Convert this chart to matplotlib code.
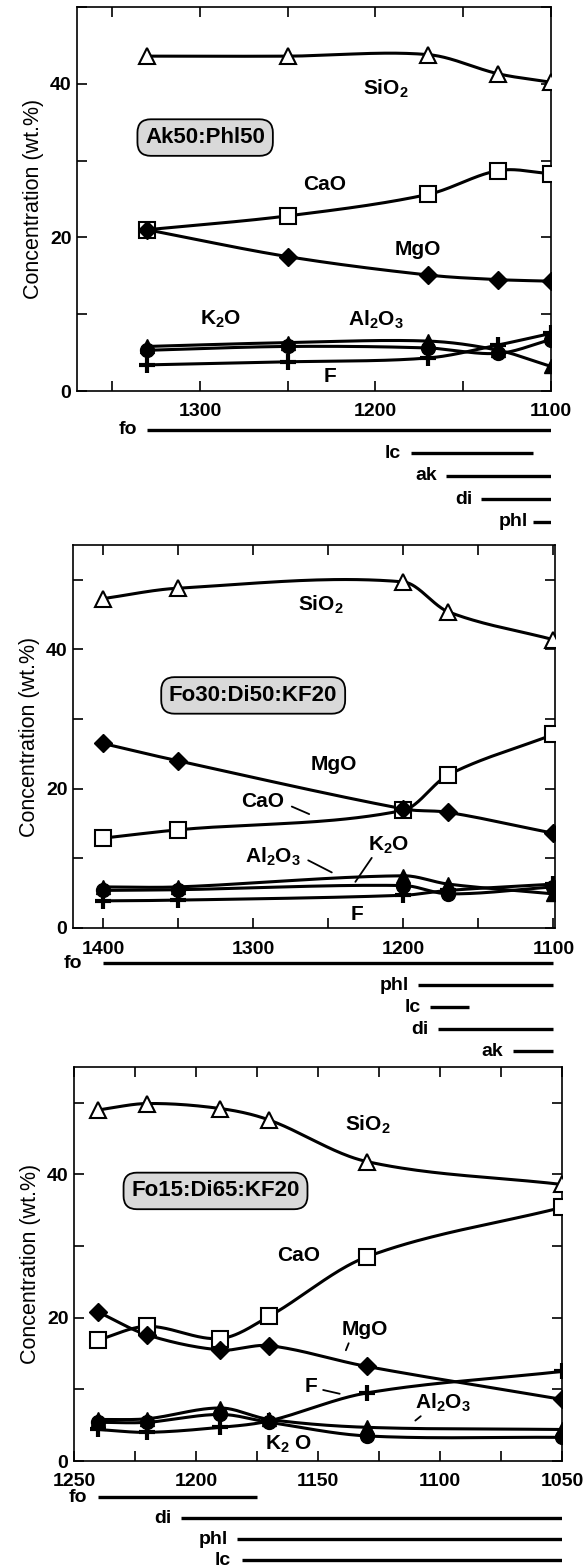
import numpy as np
import matplotlib
matplotlib.use("Agg")
import matplotlib.pyplot as plt
from matplotlib.ticker import MultipleLocator

plt.rcParams["font.family"] = ["Liberation Sans", "DejaVu Sans"]
plt.rcParams["mathtext.fontset"] = "custom"
plt.rcParams["mathtext.rm"] = "Liberation Sans:bold"
plt.rcParams["mathtext.default"] = "rm"

W, H = 586, 1568

# ---- panel 1 : Ak50:Phl50
temp_1 = [1330, 1250, 1170, 1130, 1100]
sio2_1 = [43.6, 43.6, 43.8, 41.3, 40.2]
cao_1 = [21.0, 22.8, 25.6, 28.7, 28.3]
mgo_1 = [21.0, 17.5, 15.1, 14.5, 14.3]
k2o_1 = [5.3, 5.8, 5.6, 4.9, 6.7]
al2o3_1 = [5.8, 6.3, 6.5, 5.3, 3.2]
f_1 = [3.4, 3.8, 4.3, 6.0, 7.5]
phases_1 = ["fo", "lc", "ak", "di", "phl"]
phase_from_1 = [1330, 1180, 1160, 1140, 1110]
phase_to_1 = [1100, 1110, 1100, 1100, 1100]

# ---- panel 2 : Fo30:Di50:KF20
temp_2 = [1400, 1350, 1200, 1170, 1100]
sio2_2 = [47.3, 48.8, 49.7, 45.4, 41.4]
cao_2 = [12.9, 14.1, 16.9, 22.0, 27.8]
mgo_2 = [26.5, 24.0, 17.1, 16.6, 13.6]
k2o_2 = [5.4, 5.5, 6.1, 4.9, 5.9]
al2o3_2 = [5.9, 5.9, 7.5, 6.3, 4.9]
f_2 = [3.9, 4.0, 4.7, 5.4, 6.3]
phases_2 = ["fo", "phl", "lc", "di", "ak"]
phase_from_2 = [1400, 1190, 1182, 1177, 1127]
phase_to_2 = [1100, 1100, 1156, 1100, 1100]

# ---- panel 3 : Fo15:Di65:KF20
temp_3 = [1240, 1220, 1190, 1170, 1130, 1050]
sio2_3 = [49.0, 49.9, 49.2, 47.6, 41.8, 38.6]
cao_3 = [16.9, 18.8, 17.1, 20.2, 28.5, 35.4]
mgo_3 = [20.8, 17.6, 15.5, 16.1, 13.2, 8.6]
k2o_3 = [5.4, 5.4, 6.5, 5.4, 3.5, 3.3]
al2o3_3 = [5.8, 5.9, 7.4, 5.8, 4.7, 4.4]
f_3 = [4.4, 4.0, 4.7, 5.6, 9.5, 12.5]
phases_3 = ["fo", "di", "phl", "lc"]
phase_from_3 = [1240, 1206, 1183, 1181]
phase_to_3 = [1175, 1050, 1050, 1050]

markers = {
    "SiO2": dict(marker="^", mfc="white", ms=11, mew=1.5),
    "CaO": dict(marker="s", mfc="white", ms=12, mew=1.5),
    "MgO": dict(marker="D", mfc="black", ms=9),
    "K2O": dict(marker="o", mfc="black", ms=10),
    "Al2O3": dict(marker="^", mfc="black", ms=10),
    "F": dict(marker="+", ms=12, mew=3),
}


def smooth(x, y, n=40):
    # hermite curve through the measured points, just for drawing the line
    x = np.asarray(x, float)
    y = np.asarray(y, float)
    o = np.argsort(x)
    x, y = x[o], y[o]
    m = np.empty_like(y)
    m[1:-1] = (y[2:] - y[:-2]) / (x[2:] - x[:-2])
    m[0] = (y[1] - y[0]) / (x[1] - x[0])
    m[-1] = (y[-1] - y[-2]) / (x[-1] - x[-2])
    xs, ys = [], []
    t = np.linspace(0, 1, n)
    for i in range(len(x) - 1):
        h = x[i + 1] - x[i]
        h00 = 2 * t ** 3 - 3 * t ** 2 + 1
        h10 = t ** 3 - 2 * t ** 2 + t
        h01 = -2 * t ** 3 + 3 * t ** 2
        h11 = t ** 3 - t ** 2
        xs.append(x[i] + t * h)
        ys.append(h00 * y[i] + h10 * h * m[i] + h01 * y[i + 1] + h11 * h * m[i + 1])
    return np.concatenate(xs), np.concatenate(ys)


def rect(left, top, right, bottom):
    return [left / W, 1 - bottom / H, (right - left) / W, (bottom - top) / H]


fig = plt.figure(figsize=(W / 100, H / 100), dpi=100)


def panel(box, xlim, ymax, xmaj, xmin, temps, series, name, name_xy, notes,
          bar_box, phases, p_from, p_to, gaps):
    ax = fig.add_axes(rect(*box))
    for key, vals in series.items():
        xs, ys = smooth(temps, vals)
        ax.plot(xs, ys, color="black", lw=2.2, zorder=2)
    for key, vals in series.items():
        ax.plot(temps, vals, ls="none", color="black", mec="black", zorder=3,
                **markers[key])
    ax.set_xlim(*xlim)
    ax.set_ylim(0, ymax)
    ax.xaxis.set_major_locator(MultipleLocator(xmaj))
    ax.xaxis.set_minor_locator(MultipleLocator(xmin))
    ax.yaxis.set_major_locator(MultipleLocator(20))
    ax.yaxis.set_minor_locator(MultipleLocator(10))
    ax.tick_params(which="both", direction="in", top=True, right=True,
                   length=7, width=1.2, labelsize=14)
    ax.tick_params(axis="x", pad=9)
    ax.tick_params(axis="y", pad=4)
    for lab in ax.get_xticklabels() + ax.get_yticklabels():
        lab.set_fontweight("bold")
    for s in ax.spines.values():
        s.set_linewidth(1.2)
    ax.set_ylabel("Concentration (wt.%)", fontsize=15.5, labelpad=4)
    ax.text(*name_xy, name, ha="center", va="center", fontsize=16,
            fontweight="bold",
            bbox=dict(boxstyle="round,pad=0.35,rounding_size=0.6",
                      fc="#d9d9d9", ec="black", lw=1.3))
    for txt, xy, lead in notes:
        ax.text(*xy, txt, ha="center", va="center", fontsize=15,
                fontweight="bold", zorder=4)
        if lead is not None:
            ax.annotate("", xy=lead[1], xytext=lead[0],
                        arrowprops=dict(arrowstyle="-", lw=1.3, color="black"))

    bx = fig.add_axes(rect(*bar_box))
    bx.set_xlim(*xlim)
    rows = np.arange(len(phases))
    bx.set_ylim(len(phases) - 0.5, -0.5)
    bx.hlines(rows, p_from, p_to, color="black", lw=2.4)
    for r, ph, x0, g in zip(rows, phases, p_from, gaps):
        bx.annotate(ph, (x0, r), xytext=(-g, 0), textcoords="offset points",
                    ha="right", va="center", fontsize=14, fontweight="bold")
    bx.axis("off")
    return ax


panel((77, 7, 551, 391), (1370, 1100), 50, 100, 50, temp_1,
      {"SiO2": sio2_1, "CaO": cao_1, "MgO": mgo_1, "K2O": k2o_1,
       "Al2O3": al2o3_1, "F": f_1},
      "Ak50:Phl50", (1297, 33),
      [("SiO$_2$", (1194, 39.3), None),
       ("CaO", (1229, 26.9), None),
       ("MgO", (1176, 18.4), None),
       ("K$_2$O", (1288, 9.3), None),
       ("Al$_2$O$_3$", (1200, 9.3), None),
       ("F", (1226, 1.9), None)],
      (77, 418.5, 551, 533.5), phases_1, phase_from_1, phase_to_1,
      [7, 7, 6, 6, 4])

panel((73, 545, 555, 928), (1420, 1099), 55, 100, 50, temp_2,
      {"SiO2": sio2_2, "CaO": cao_2, "MgO": mgo_2, "K2O": k2o_2,
       "Al2O3": al2o3_2, "F": f_2},
      "Fo30:Di50:KF20", (1300, 33.4),
      [("SiO$_2$", (1255, 46.4), None),
       ("MgO", (1246, 23.5), None),
       ("CaO", (1294, 18.1), ((1276, 17.6), (1261, 16.2))),
       ("Al$_2$O$_3$", (1287, 10.2), ((1265, 9.9), (1246, 7.8))),
       ("K$_2$O", (1210, 11.8), ((1220, 10.4), (1233, 6.3))),
       ("F", (1231, 2.0), None)],
      (73, 952, 555, 1062), phases_2, phase_from_2, phase_to_2,
      [15, 7, 7, 7, 7])

panel((74, 1067, 562, 1461), (1250, 1050), 55, 50, 25, temp_3,
      {"SiO2": sio2_3, "CaO": cao_3, "MgO": mgo_3, "K2O": k2o_3,
       "Al2O3": al2o3_3, "F": f_3},
      "Fo15:Di65:KF20", (1192, 37.7),
      [("SiO$_2$", (1129.5, 46.9), None),
       ("CaO", (1158, 28.7), None),
       ("MgO", (1131, 18.3), ((1137, 16.8), (1139, 15.1))),
       ("F", (1153, 10.4), ((1149, 10.0), (1140, 9.3))),
       ("Al$_2$O$_3$", (1099, 8.1), ((1107, 6.5), (1111, 5.4))),
       ("K$_2$ O", (1162, 2.3), None)],
      (74, 1486.5, 562, 1570.5), phases_3, phase_from_3, phase_to_3,
      [8, 7, 7, 8])

fig.savefig("out.png", dpi=100)
